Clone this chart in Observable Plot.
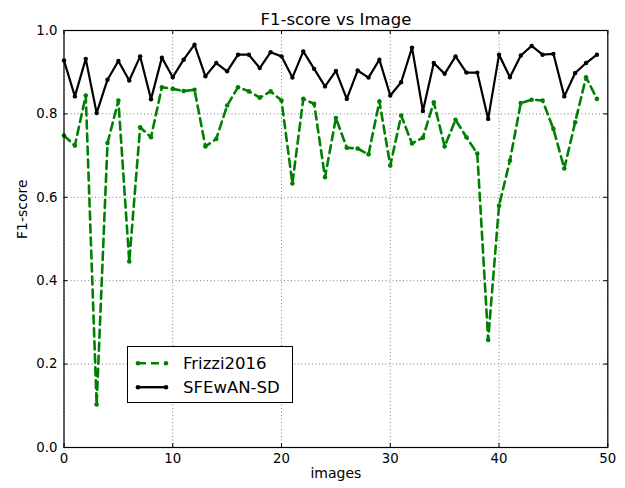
<!DOCTYPE html>
<html>
<head>
<meta charset="utf-8">
<script src="https://cdn.jsdelivr.net/npm/d3@7"></script>
<script src="https://cdn.jsdelivr.net/npm/@observablehq/plot@0.6"></script>
<style>
  body { margin: 0; background: #fff; font-family: "DejaVu Sans", sans-serif; }
  #wrap { position: relative; width: 625px; height: 488px; }
  #legend { position: absolute; left: 127px; top: 346px; width: 166px; height: 57px;
    border: 1px solid #000; background: #fff; box-sizing: border-box; }
  #legend svg { position: absolute; left: 0; top: 0; }
</style>
</head>
<body>
<div id="wrap"></div>
<script>
const images = d3.range(0, 50);
const frizzi = [0.748,0.724,0.844,0.103,0.730,0.832,0.446,0.768,0.744,0.864,
  0.860,0.855,0.858,0.722,0.740,0.820,0.864,0.854,0.839,0.854,
  0.832,0.633,0.836,0.824,0.648,0.790,0.719,0.717,0.703,0.830,
  0.676,0.796,0.729,0.743,0.828,0.722,0.786,0.744,0.705,0.258,
  0.580,0.688,0.826,0.834,0.832,0.764,0.669,0.780,0.888,0.836];
const sfewan = [0.928,0.842,0.932,0.802,0.882,0.927,0.880,0.938,0.835,0.935,
  0.888,0.930,0.966,0.890,0.922,0.902,0.942,0.942,0.910,0.948,
  0.938,0.887,0.950,0.908,0.866,0.903,0.836,0.904,0.887,0.930,
  0.844,0.876,0.959,0.807,0.922,0.896,0.938,0.899,0.899,0.788,
  0.942,0.888,0.940,0.963,0.942,0.944,0.842,0.898,0.922,0.942];
const seriesNames = ["Frizzi2016", "SFEwAN-SD"];
const xTicks = [0, 10, 20, 30, 40, 50];
const yTicks = [0, 0.2, 0.4, 0.6, 0.8, 1.0];
const titleText = "F1-score vs Image";

const fr = images.map((x, i) => ({x, y: frizzi[i]}));
const sf = images.map((x, i) => ({x, y: sfewan[i]}));

const frameH = 417;
const frameW = 543.8;
const green = "#008000";

const chart = Plot.plot({
  width: 625, height: 488,
  marginLeft: 63.5, marginRight: 17.7, marginTop: 30, marginBottom: 41,
  style: {fontFamily: "DejaVu Sans, sans-serif", fontSize: "13px", color: "#000", background: "#fff"},
  x: {domain: [0, 50]},
  y: {domain: [0, 1]},
  marks: [
    Plot.gridX(xTicks, {stroke: "#000", strokeOpacity: 0.5, strokeDasharray: "1,2.5", strokeWidth: 1}),
    Plot.gridY(yTicks, {stroke: "#000", strokeOpacity: 0.5, strokeDasharray: "1,2.5", strokeWidth: 1}),
    Plot.line(fr, {x: "x", y: "y", stroke: green, strokeWidth: 2.6, strokeDasharray: "8,5", strokeLinejoin: "round"}),
    Plot.dot(fr, {x: "x", y: "y", r: 2.3, fill: green}),
    Plot.line(sf, {x: "x", y: "y", stroke: "#000", strokeWidth: 2.2, strokeLinejoin: "round"}),
    Plot.dot(sf, {x: "x", y: "y", r: 2.2, fill: "#000"}),
    Plot.ruleX(xTicks, {x: d => d, stroke: "#000", insetTop: frameH - 4}),
    Plot.ruleX(xTicks, {x: d => d, stroke: "#000", insetBottom: frameH - 4}),
    Plot.ruleY(yTicks, {y: d => d, stroke: "#000", insetRight: frameW - 4}),
    Plot.ruleY(yTicks, {y: d => d, stroke: "#000", insetLeft: frameW - 4}),
    Plot.frame({stroke: "#000", strokeWidth: 1.2}),
    Plot.axisX(xTicks, {tickSize: 0, tickPadding: 6, fontSize: 13.3, tickFormat: d => String(d),
      label: null}),
    Plot.axisY(yTicks, {tickSize: 0, tickPadding: 6.5, fontSize: 13.3, tickFormat: d3.format(".1f"),
      label: null}),
    Plot.text(["images"], {frameAnchor: "bottom", dy: 30, fontSize: 14, fill: "#000"}),
    Plot.text(["F1-score"], {frameAnchor: "left", dx: -41, rotate: -90, fontSize: 14, fill: "#000"}),
    Plot.text([titleText], {frameAnchor: "top", dy: -17, fontSize: 16.5, fill: "#000"})
  ]
});
document.getElementById("wrap").appendChild(chart);

const legend = document.createElement("div");
legend.id = "legend";
const rows = [
  {name: seriesNames[0], color: green, dash: "8,5", cy: 16.2},
  {name: seriesNames[1], color: "#000", dash: null, cy: 40.2}
];
let inner = `<svg width="166" height="57">`;
for (const r of rows) {
  inner += `<line x1="10" y1="${r.cy}" x2="38" y2="${r.cy}" stroke="${r.color}" stroke-width="2.4" ${r.dash ? `stroke-dasharray="${r.dash}"` : ""}/>`;
  inner += `<circle cx="10" cy="${r.cy}" r="2.3" fill="${r.color}"/><circle cx="38" cy="${r.cy}" r="2.3" fill="${r.color}"/>`;
  inner += `<text x="55" y="${r.cy + 6}" font-family="DejaVu Sans, sans-serif" font-size="16.5" fill="#000">${r.name}</text>`;
}
inner += `</svg>`;
legend.innerHTML = inner;
document.getElementById("wrap").appendChild(legend);
</script>
</body>
</html>
